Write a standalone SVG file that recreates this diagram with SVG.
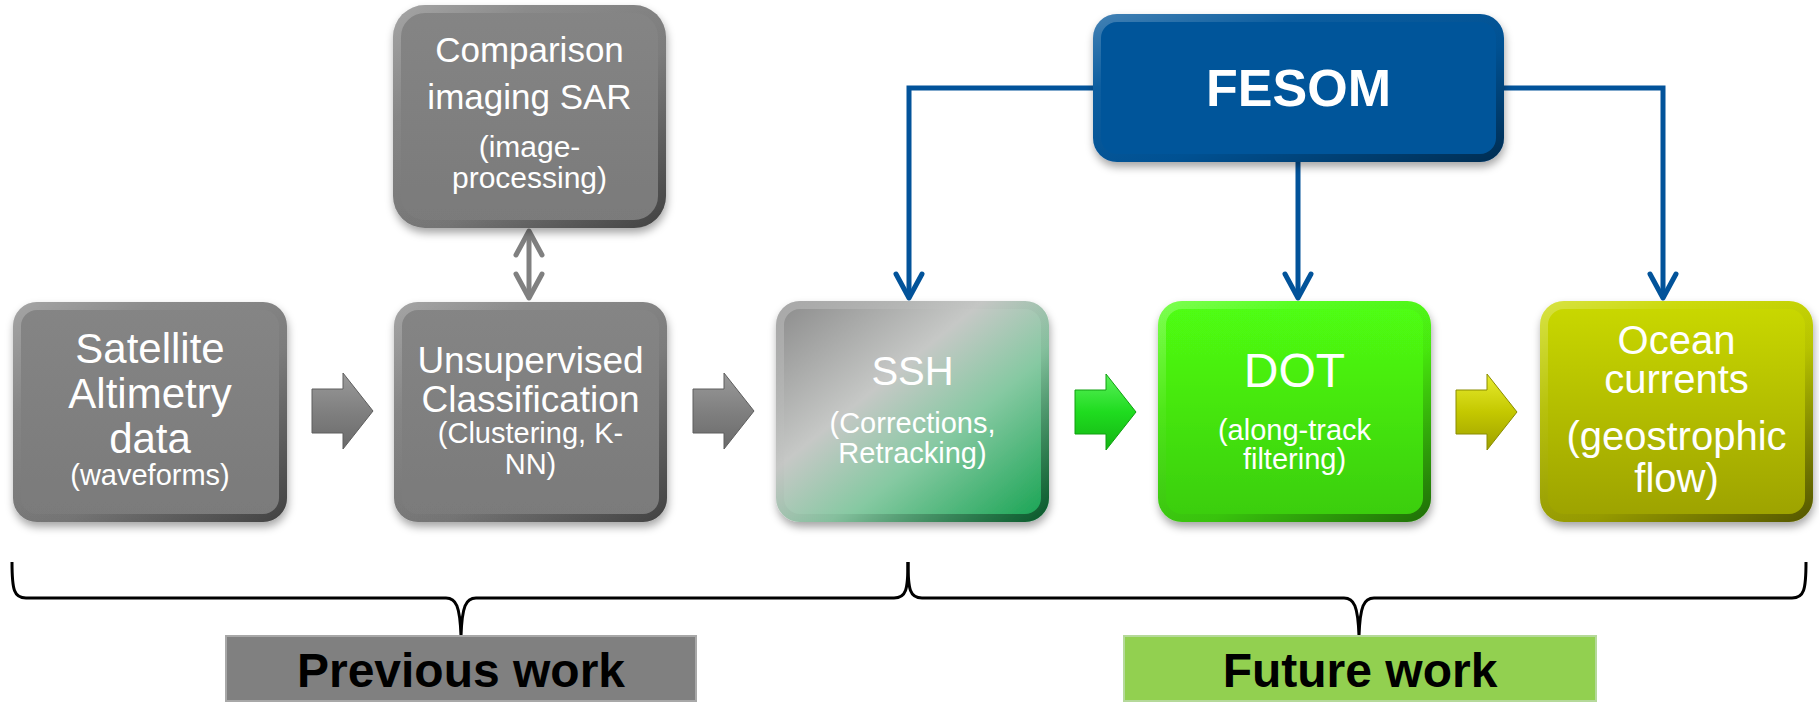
<svg xmlns="http://www.w3.org/2000/svg" width="1819" height="703" viewBox="0 0 1819 703">
<style>
.t{font-family:"Liberation Sans",Arial,Helvetica,sans-serif;fill:#fff;text-anchor:middle}
.lbl{font-family:"Liberation Sans",Arial,Helvetica,sans-serif;font-weight:bold;fill:#000;text-anchor:middle;font-size:48px}
.bev{fill:none;stroke:url(#bevel);stroke-width:8}
.blue{fill:none;stroke:#02539a;stroke-width:5}
.brace{fill:none;stroke:#000;stroke-width:3;stroke-linejoin:round}
</style>
<defs>
<filter id="sh" x="-10%" y="-10%" width="125%" height="130%">
<feDropShadow dx="1" dy="5" stdDeviation="4" flood-color="#000" flood-opacity="0.35"/>
</filter>
<linearGradient id="bevel" x1="0" y1="0" x2="1" y2="1">
<stop offset="0" stop-color="#fff" stop-opacity="0.25"/>
<stop offset="0.25" stop-color="#fff" stop-opacity="0.05"/>
<stop offset="0.6" stop-color="#000" stop-opacity="0.05"/>
<stop offset="1" stop-color="#000" stop-opacity="0.45"/>
</linearGradient>
<linearGradient id="gGray" x1="0" y1="0" x2="0" y2="1">
<stop offset="0" stop-color="#858585"/>
<stop offset="1" stop-color="#7a7a7a"/>
</linearGradient>
<linearGradient id="gSSH" x1="0" y1="0" x2="1" y2="1">
<stop offset="0" stop-color="#8a8a8a"/>
<stop offset="0.38" stop-color="#c6c8c6"/>
<stop offset="0.62" stop-color="#86c9a2"/>
<stop offset="1" stop-color="#12a24f"/>
</linearGradient>
<linearGradient id="gDOT" x1="0" y1="0" x2="0" y2="1">
<stop offset="0" stop-color="#50ff12"/>
<stop offset="1" stop-color="#3acc0e"/>
</linearGradient>
<linearGradient id="gOcean" x1="0" y1="0" x2="0" y2="1">
<stop offset="0" stop-color="#cad900"/>
<stop offset="1" stop-color="#9ca100"/>
</linearGradient>
<linearGradient id="aGray" x1="0" y1="0" x2="0" y2="1">
<stop offset="0" stop-color="#9a9a9a"/>
<stop offset="0.5" stop-color="#808080"/>
<stop offset="1" stop-color="#6a6a6a"/>
</linearGradient>
<linearGradient id="aGreen" x1="0" y1="0" x2="0" y2="1">
<stop offset="0" stop-color="#5cf05c"/>
<stop offset="0.5" stop-color="#1fdc1f"/>
<stop offset="1" stop-color="#14b414"/>
</linearGradient>
<linearGradient id="aYellow" x1="0" y1="0" x2="0" y2="1">
<stop offset="0" stop-color="#e8ec30"/>
<stop offset="0.5" stop-color="#c4c800"/>
<stop offset="1" stop-color="#9ea000"/>
</linearGradient>
<path id="blk" d="M0,-22 L31,-22 L31,-38 L61,0 L31,38 L31,22 L0,22 Z"/>
<marker id="vb" viewBox="-30 -20 40 40" refX="0" refY="0" markerWidth="40" markerHeight="40" orient="auto-start-reverse" markerUnits="userSpaceOnUse">
<path d="M-24,-13 L0,0 L-24,13" fill="none" stroke="#02539a" stroke-width="5" stroke-linecap="round" stroke-linejoin="round"/>
</marker>
<marker id="vg" viewBox="-30 -20 40 40" refX="0" refY="0" markerWidth="40" markerHeight="40" orient="auto-start-reverse" markerUnits="userSpaceOnUse">
<path d="M-24,-13 L0,0 L-24,13" fill="none" stroke="#808080" stroke-width="5" stroke-linecap="round" stroke-linejoin="round"/>
</marker>
</defs>
<rect width="1819" height="703" fill="#fff"/>

<g id="connectors">
<path class="blue" d="M1093,88 H909 V298" marker-end="url(#vb)"/>
<path class="blue" d="M1298,162 V298" marker-end="url(#vb)"/>
<path class="blue" d="M1504,88 H1663 V298" marker-end="url(#vb)"/>
<path d="M529,231 V298" fill="none" stroke="#808080" stroke-width="5" marker-start="url(#vg)" marker-end="url(#vg)"/>
<use href="#blk" transform="translate(312,411)" fill="url(#aGray)" stroke="#5e5e5e" stroke-width="1"/>
<use href="#blk" transform="translate(693,411)" fill="url(#aGray)" stroke="#5e5e5e" stroke-width="1"/>
<use href="#blk" transform="translate(1075,412)" fill="url(#aGreen)" stroke="#10a010" stroke-width="1"/>
<use href="#blk" transform="translate(1456,412)" fill="url(#aYellow)" stroke="#8a8c00" stroke-width="1"/>
</g>

<g id="node-satellite">
<rect x="13" y="302" width="274" height="220" rx="24" fill="url(#gGray)" filter="url(#sh)"/>
<rect class="bev" x="17" y="306" width="266" height="212" rx="20"/>
<text class="t" font-size="42"><tspan x="150" y="363">Satellite</tspan><tspan x="150" y="408">Altimetry</tspan><tspan x="150" y="453">data</tspan><tspan x="150" y="485" font-size="29">(waveforms)</tspan></text>
</g>

<g id="node-sar">
<rect x="393" y="5" width="273" height="223" rx="32" fill="url(#gGray)" filter="url(#sh)"/>
<rect class="bev" x="397" y="9" width="265" height="215" rx="28"/>
<text class="t" font-size="35"><tspan x="529.5" y="62">Comparison</tspan><tspan x="529.5" y="109">imaging SAR</tspan><tspan x="529.5" y="157" font-size="30">(image-</tspan><tspan x="529.5" y="188" font-size="30">processing)</tspan></text>
</g>

<g id="node-classification">
<rect x="394" y="302" width="273" height="220" rx="24" fill="url(#gGray)" filter="url(#sh)"/>
<rect class="bev" x="398" y="306" width="265" height="212" rx="20"/>
<text class="t" font-size="37"><tspan x="530.5" y="373">Unsupervised</tspan><tspan x="530.5" y="412">Classification</tspan><tspan x="530.5" y="443" font-size="29">(Clustering, K-</tspan><tspan x="530.5" y="474" font-size="29">NN)</tspan></text>
</g>

<g id="node-ssh">
<rect x="776" y="301" width="273" height="221" rx="24" fill="url(#gSSH)" filter="url(#sh)"/>
<rect class="bev" x="780" y="305" width="265" height="213" rx="20"/>
<text class="t" font-size="40"><tspan x="912.5" y="385">SSH</tspan><tspan x="912.5" y="433" font-size="29">(Corrections,</tspan><tspan x="912.5" y="463" font-size="29">Retracking)</tspan></text>
</g>

<g id="node-dot">
<rect x="1158" y="301" width="273" height="221" rx="24" fill="url(#gDOT)" filter="url(#sh)"/>
<rect class="bev" x="1162" y="305" width="265" height="213" rx="20"/>
<text class="t" font-size="48"><tspan x="1294.5" y="387">DOT</tspan><tspan x="1294.5" y="440" font-size="29">(along-track</tspan><tspan x="1294.5" y="469" font-size="29">filtering)</tspan></text>
</g>

<g id="node-ocean">
<rect x="1540" y="301" width="273" height="221" rx="24" fill="url(#gOcean)" filter="url(#sh)"/>
<rect class="bev" x="1544" y="305" width="265" height="213" rx="20"/>
<text class="t" font-size="40"><tspan x="1676.5" y="354">Ocean</tspan><tspan x="1676.5" y="393">currents</tspan><tspan x="1676.5" y="450">(geostrophic</tspan><tspan x="1676.5" y="492">flow)</tspan></text>
</g>

<g id="node-fesom">
<rect x="1093" y="14" width="411" height="148" rx="24" fill="#02559a" filter="url(#sh)"/>
<rect class="bev" x="1097" y="18" width="403" height="140" rx="20"/>
<text class="t" x="1298.5" y="106" font-size="52" font-weight="bold">FESOM</text>
</g>

<g id="braces">
<path class="brace" d="M12,562 C12,590 14,598 26,598 L446,598 C456,598 460,606 461,636 C462,606 466,598 476,598 L894,598 C906,598 908,590 908,562"/>
<path class="brace" d="M908,562 C908,590 910,598 922,598 L1344,598 C1354,598 1358,606 1359,636 C1360,606 1364,598 1374,598 L1792,598 C1804,598 1806,590 1806,562"/>
</g>

<g id="node-previous">
<rect x="226" y="636" width="470" height="65" fill="#808080" stroke="#a8a8a8" stroke-width="2"/>
<text class="lbl" x="461" y="687">Previous work</text>
</g>

<g id="node-future">
<rect x="1124" y="636" width="472" height="65" fill="#92d050" stroke="#b5d99a" stroke-width="2"/>
<text class="lbl" x="1360" y="687">Future work</text>
</g>
</svg>
